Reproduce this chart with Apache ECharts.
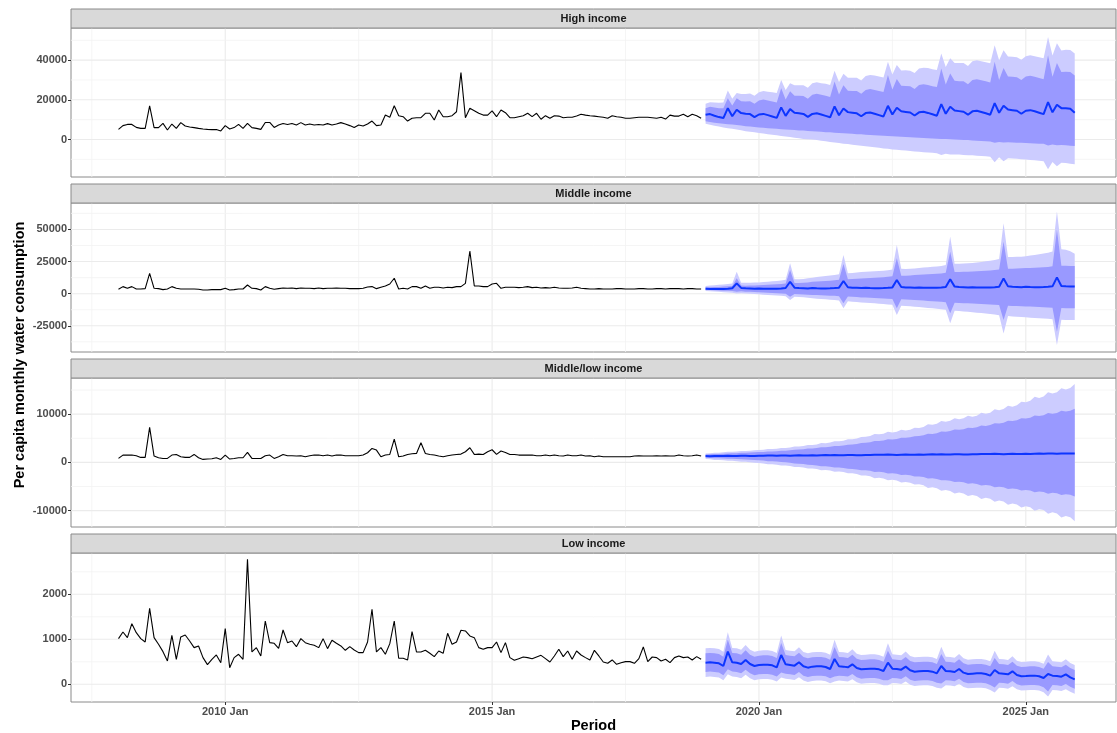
<!DOCTYPE html>
<html><head><meta charset="utf-8">
<script src="https://cdn.jsdelivr.net/npm/echarts@6/dist/echarts.min.js"></script>
<style>html,body{margin:0;padding:0;background:#fff}#chart{width:1117px;height:733px}</style>
</head><body><div id="chart"></div>
<script>
// ---------- categories / ticks ----------
const panelNames = ['High income', 'Middle income', 'Middle/low income', 'Low income'];
const histStartYear = 2008;   // monthly, 2008 Jan .. 2018 Dec
const fcStartYear = 2019;     // monthly, 2019 Jan .. 2025 Dec
const xTickYears = [2010, 2015, 2020, 2025];
const xMinorYears = [2007.5, 2012.5, 2017.5, 2022.5];
const yTicksHigh = [0, 20000, 40000];
const yTicksMiddle = [-25000, 0, 25000, 50000];
const yTicksMidLow = [-10000, 0, 10000];
const yTicksLow = [0, 1000, 2000];
const yMinorHigh = [-10000, 10000, 30000, 50000];
const yMinorMiddle = [-37500, -12500, 12500, 37500, 62500];
const yMinorMidLow = [-5000, 5000, 15000];
const yMinorLow = [500, 1500, 2500];

// ---------- historical series ----------
const histHigh = [5100,7000,7600,7600,6100,5600,5600,17000,6000,6000,8100,4800,
7800,5600,8500,6800,6300,6000,5600,5300,5100,5000,5000,4300,
7000,5300,6000,7600,5600,8100,6000,5600,5100,8600,8600,6100,
7300,8100,7600,8100,7300,8500,7300,7800,7300,7600,7300,8000,
7300,7800,8500,7800,7000,6000,7300,6800,7800,9300,7000,7300,
12300,11200,17000,12000,11500,9300,10700,11000,11000,13200,13200,9800,
14900,11500,11500,12000,14000,33800,11000,15700,14500,13200,12300,12300,
14400,11500,14900,13500,11000,11000,11500,12000,13200,11500,13200,10200,
12000,10700,12000,11800,11000,11200,11200,11800,12700,12300,12000,11800,
11500,11200,10700,12000,11500,11200,10700,10700,11000,11200,11200,11200,
11000,10700,11200,10300,12300,11800,11800,12700,11500,12700,12000,10700];
const histMiddle = [3400,5500,4180,5500,3660,3660,3920,15800,4180,3920,3140,3660,
5500,4180,3660,3660,3660,3660,3400,2880,2880,3140,3140,3140,
4180,2880,3140,3660,3660,6780,4180,3920,2880,5500,4180,3400,
3920,4440,4180,4440,3920,4440,4180,4180,3920,4440,3920,4180,
4180,4440,4180,4180,3920,3920,3920,4180,5200,5500,3920,4960,
6000,7550,12000,3660,4180,3660,5500,5500,4180,6000,4180,4960,
4960,4440,4960,4700,5500,5500,8070,33200,6000,6000,5500,5500,
7550,8070,4180,4960,4960,4960,4700,4960,5500,4700,4960,4440,
4700,4440,4960,4440,4180,4180,4440,4960,4180,3920,3660,3660,
3920,3660,3660,3660,3920,3920,3660,3660,3660,3920,3920,3660,
3660,3920,3920,3660,3920,3920,3920,3660,3920,3920,3660,3660];
const histMidLow = [820,1515,1515,1515,1380,1030,1030,7260,1310,960,820,820,
1515,1650,1170,1030,1030,1650,960,620,690,750,960,620,
1515,690,820,960,960,2070,820,820,820,1380,1515,820,
1170,1650,1380,1380,1310,1380,1170,1380,1515,1515,1380,1515,
1310,1515,1515,1380,1380,1380,1380,1515,2000,2900,2550,1170,
1515,1650,4840,1170,1310,1650,1790,1860,4080,1860,1650,1515,
1310,1170,1380,1515,1650,1720,2210,3040,1650,1720,1650,2210,
2620,1650,2350,2070,1650,1650,1515,1515,1515,1515,1380,1380,
1515,1380,1515,1380,1310,1515,1380,1380,1515,1310,1380,1170,
1310,1170,1170,1170,1170,1170,1170,1170,1310,1380,1310,1310,
1310,1380,1310,1380,1310,1310,1515,1380,1310,1380,1515,1310];
const histLow = [1015,1163,1037,1348,1148,1015,941,1689,1037,889,726,519,
1089,556,1052,1096,963,815,852,593,437,556,652,481,
1237,370,593,667,556,2778,719,815,630,1407,926,911,
800,1207,926,963,837,1015,926,889,867,815,1015,793,
978,911,852,756,837,763,704,704,941,1667,719,815,
667,904,1407,578,578,541,1170,719,719,756,689,615,
741,689,1133,889,941,1200,1185,1074,1037,815,778,815,
815,941,704,926,593,533,570,607,593,570,607,644,
570,496,630,778,615,741,556,741,652,593,541,756,
630,496,467,541,444,481,504,504,467,570,830,504,
607,593,519,556,481,593,630,593,607,541,615,556];

// ---------- forecasts: High income ----------
const fcMeanHigh = [12500,12800,12000,11300,10800,15800,11700,15000,13300,13000,12800,11300,
12600,12900,12300,11600,10900,16200,11900,15300,13500,13200,12900,11400,
12900,13200,12600,11900,11200,16700,12200,15600,13800,13500,13200,11700,
13300,13600,13000,12300,11600,17000,12600,16000,14200,13900,13600,12100,
13700,14000,13400,12700,12000,17800,13000,16500,14600,14300,14000,12500,
14200,14500,13900,13200,12500,18300,13500,17000,15100,14800,14500,13000,
14500,14800,14200,13500,12800,18800,13700,17500,15800,15800,15500,13500];
const fcHi80High = [15800,16500,16100,15800,15700,20800,17200,20800,19300,19200,19300,18000,
19600,20100,19700,19200,18700,25800,20100,24300,22100,22000,21900,20600,
22500,23000,22500,22000,21400,29200,22700,27400,24600,24500,24400,23000,
25000,25400,25000,24500,23900,32500,25200,30500,27100,27000,26800,25500,
27500,27900,27500,26900,26400,35800,27700,33300,29600,29400,29300,27900,
30000,30400,29900,29300,28700,39200,30000,36000,31800,31600,31400,30000,
31700,32100,31600,31000,30400,42500,31600,38500,34000,34200,34000,32200];
const fcHi95High = [18000,18800,18600,18500,18600,24700,20500,23500,22900,22900,23200,22000,
23800,24400,24100,23800,23400,30000,25000,28300,27300,27300,27300,26100,
28300,28900,28400,28100,27500,34700,29000,33100,31100,31100,31100,29800,
32000,32500,32200,31800,31300,39200,32800,37500,34800,34900,34700,33500,
35800,36200,36000,35400,35000,43300,36500,41000,38600,38500,38500,37100,
39500,39900,39500,39000,38400,47500,39900,45000,41800,41700,41500,40200,
42000,42500,42000,41500,41000,51700,42300,48500,44900,45200,45100,43400];
const fcLo80High = [9200,8800,8500,8200,7900,7700,7500,7300,7000,6700,6500,6300,
6100,5900,5700,5600,5400,5200,5100,4900,4800,4600,4500,4300,
4200,4000,3900,3700,3600,3400,3300,3100,3000,2900,2700,2600,
2400,2300,2100,2000,1900,1800,1700,1500,1400,1300,1100,1000,
900,800,600,500,400,300,200,100,0,-100,-200,-300,
-500,-600,-800,-900,-1000,-1600,-1200,-1500,-1400,-1500,-1600,-1700,
-1800,-1900,-2000,-2100,-2200,-3000,-2500,-2900,-2800,-2900,-3100,-3300];
const fcLo95High = [8000,7400,6900,6500,6100,5700,5400,5100,4700,4200,3900,3600,
3300,3000,2700,2400,2100,1800,1500,1200,900,600,300,100,
0,-300,-600,-900,-1200,-1500,-1800,-2100,-2300,-2600,-2900,-3100,
-3400,-3700,-3900,-4200,-4500,-4700,-5000,-5200,-5400,-5600,-5800,-6000,
-6200,-6400,-6500,-6700,-6900,-7800,-7200,-7600,-7500,-7600,-7800,-7900,
-8000,-8200,-8300,-8500,-8700,-11500,-9000,-11000,-9400,-9600,-9700,-9900,
-10100,-10300,-10500,-10700,-10900,-15000,-11300,-13500,-11700,-11900,-12200,-12500];

// ---------- forecasts: Middle income ----------
const fcMeanMiddle = [3900,3700,3600,3600,3700,3900,4200,8000,4500,4200,4100,3900,
4100,3900,3800,3800,3900,4100,4400,9300,4700,4400,4300,4100,
4400,4200,4100,4100,4200,4400,4700,9900,5000,4700,4600,4400,
4600,4400,4300,4300,4400,4600,4900,10600,5200,4900,4800,4600,
4900,4700,4600,4600,4700,4900,5200,11200,5500,5200,5100,4900,
5100,4900,4800,4800,4900,5100,5400,11900,5700,5400,5300,5100,
5400,5200,5100,5100,5200,5400,5700,12700,6000,5700,5600,5500];
const fcHi80Middle = [4960,5100,5200,5300,5500,5700,6000,12000,6300,6200,6300,6400,
6600,6800,7000,7200,7400,7600,8000,18400,8400,8300,8500,8700,
9300,9500,9700,9900,10100,10400,10800,23100,11300,11400,11600,11800,
12000,12200,12400,12600,12800,13100,13500,27500,14000,14000,14200,14500,
14700,14900,15100,15300,15500,15800,16300,32700,16800,16800,17000,17100,
17300,17500,17700,17900,18100,18400,18900,40500,19500,19500,19700,19800,
19900,20000,20200,20300,20500,20800,21300,49600,21800,21700,21600,21500];
const fcHi95Middle = [6000,6300,6600,6900,7200,7500,8000,17100,8500,8500,8600,8700,
8800,9000,9300,9600,9900,10200,10800,23600,11300,11300,11500,12000,
12500,12900,13300,13700,14100,14500,15200,30100,16000,16200,16500,16800,
17100,17300,17500,17700,17900,18200,18800,37900,19500,19300,19500,19700,
20000,20300,20600,20900,21200,21600,22400,44400,23300,23300,23500,23600,
23900,24300,24700,25200,25600,26200,27000,54800,28500,28500,28700,28800,
29200,29700,30200,30700,31200,31800,32800,63900,34500,34200,33000,31000];
const fcLo80Middle = [2900,2800,2600,2500,2300,2200,2000,1600,1800,1600,1500,1300,
1200,1000,800,600,400,200,0,-2300,-300,-500,-600,-800,
-1000,-1100,-1300,-1400,-1600,-1700,-1900,-7500,-2200,-2400,-2600,-2900,
-3000,-3200,-3400,-3500,-3700,-3900,-4100,-11400,-4400,-4600,-4700,-4900,
-5100,-5400,-5600,-5800,-6100,-6300,-6600,-15300,-7000,-7200,-7400,-7500,
-7700,-7900,-8100,-8300,-8500,-8700,-8900,-20500,-9300,-9500,-9600,-9800,
-9900,-10000,-10200,-10400,-10500,-10700,-10900,-29600,-11200,-11300,-11300,-11400];
const fcLo95Middle = [2100,1900,1700,1500,1200,1000,800,200,400,100,-100,-300,
-500,-800,-1000,-1200,-1400,-1600,-1900,-4900,-2300,-2600,-2800,-3100,
-3600,-3900,-4200,-4400,-4700,-5000,-5300,-11400,-5900,-6200,-6500,-6800,
-7000,-7300,-7500,-7800,-8100,-8400,-8700,-16600,-9300,-9500,-9800,-10100,
-10400,-10700,-11100,-11400,-11800,-12100,-12500,-23100,-13200,-13500,-13800,-14100,
-14400,-14800,-15100,-15500,-15800,-16200,-16700,-30900,-17400,-17700,-17900,-18200,
-18400,-18700,-18900,-19200,-19400,-19600,-19900,-40000,-20300,-20400,-20500,-20500];

// ---------- forecasts: Middle/low income ----------
const fcMeanMidLow = [1300,1280,1330,1350,1320,1370,1340,1310,1360,1380,1340,1330,
1380,1360,1410,1430,1400,1450,1420,1390,1440,1460,1420,1410,
1460,1440,1490,1510,1480,1530,1500,1470,1520,1540,1500,1490,
1540,1520,1570,1590,1560,1610,1580,1550,1600,1620,1580,1570,
1620,1600,1650,1670,1640,1690,1660,1630,1680,1700,1660,1650,
1700,1680,1730,1750,1720,1770,1740,1710,1760,1780,1740,1730,
1780,1760,1810,1830,1800,1850,1820,1790,1840,1860,1850,1860];
const fcHi80MidLow = [1650,1690,1755,1760,1800,1865,1880,1910,1975,1990,2040,2105,
2130,2170,2270,2260,2310,2400,2430,2510,2640,2660,2740,2870,
2900,2990,3145,3160,3250,3405,3420,3500,3665,3710,3830,4025,
4060,4180,4425,4420,4530,4775,4760,4870,5105,5100,5210,5445,
5470,5620,5945,5910,6060,6385,6360,6490,6795,6750,6880,7185,
7140,7270,7625,7570,7730,8125,8070,8240,8625,8570,8740,9145,
9090,9260,9715,9610,9790,10235,10110,10260,10685,10560,10710,11135];
const fcHi95MidLow = [1860,1910,2020,2020,2080,2180,2190,2240,2350,2350,2420,2540,
2560,2630,2800,2760,2830,3000,3000,3100,3300,3290,3390,3590,
3590,3720,4000,3980,4110,4390,4370,4500,4780,4800,4970,5290,
5300,5470,5890,5810,5950,6330,6220,6360,6750,6630,6770,7160,
7130,7350,7920,7780,8000,8570,8440,8610,9140,8960,9130,9650,
9480,9650,10270,10070,10310,11010,10800,11050,11740,11540,11840,12600,
12450,12760,13610,13360,13670,14520,14260,14550,15380,15120,15410,16250];
const fcLo80MidLow = [960,920,865,850,810,745,730,700,635,620,560,475,
440,380,260,250,190,80,30,-70,-220,-260,-360,-510,
-560,-650,-805,-820,-910,-1065,-1080,-1160,-1325,-1350,-1450,-1625,
-1650,-1750,-1975,-1950,-2050,-2285,-2260,-2370,-2595,-2570,-2680,-2905,
-2910,-3040,-3345,-3290,-3420,-3725,-3680,-3790,-4075,-4020,-4130,-4415,
-4350,-4470,-4805,-4700,-4810,-5155,-5050,-5170,-5505,-5400,-5500,-5835,
-5710,-5820,-6195,-6020,-6130,-6505,-6320,-6410,-6785,-6600,-6690,-7055];
const fcLo95MidLow = [690,630,520,500,440,330,320,250,140,130,40,-90,
-130,-220,-400,-390,-470,-660,-660,-760,-960,-950,-1050,-1250,
-1250,-1350,-1610,-1560,-1670,-1920,-1870,-1980,-2230,-2240,-2390,-2700,
-2710,-2870,-3270,-3180,-3330,-3720,-3620,-3770,-4170,-4070,-4210,-4610,
-4560,-4750,-5300,-5150,-5350,-5890,-5740,-5910,-6440,-6260,-6440,-6960,
-6780,-6960,-7580,-7330,-7520,-8170,-7920,-8120,-8760,-8510,-8710,-9360,
-9110,-9300,-10050,-9700,-9900,-10650,-10360,-10620,-11430,-11130,-11390,-12200];

// ---------- forecasts: Low income ----------
const fcMeanLow = [481,489,481,467,407,726,489,481,452,541,452,407,
430,437,437,422,378,652,444,430,415,489,400,370,
393,400,400,385,341,563,400,393,378,444,363,333,
341,348,348,333,296,481,348,341,326,393,311,281,
289,296,296,281,244,407,296,289,274,341,259,230,
237,244,244,230,193,318,244,237,222,289,207,178,
185,193,193,178,141,230,193,185,170,222,155,111];
const fcHi80Low = [688,696,688,674,614,991,696,688,659,756,659,614,
637,644,644,629,585,917,651,637,622,704,607,577,
600,607,607,592,548,828,607,600,585,659,570,540,
548,555,555,540,503,746,555,548,533,608,518,488,
496,503,503,488,451,672,503,496,481,556,466,437,
444,451,451,437,400,583,451,444,429,504,414,385,
392,400,400,385,348,495,400,392,377,437,362,318];
const fcHi95Low = [799,807,799,785,725,1156,807,799,770,876,770,725,
748,755,755,740,696,1082,762,748,733,824,718,688,
711,718,718,703,659,993,718,711,696,779,681,651,
659,666,666,651,614,911,666,659,644,728,629,599,
607,614,614,599,562,837,614,607,592,676,577,548,
555,562,562,548,511,748,562,555,540,624,525,496,
503,511,511,496,459,660,511,503,488,557,473,429];
const fcLo80Low = [274,282,274,260,200,336,282,274,245,326,245,200,
223,230,230,215,171,262,237,223,208,274,193,163,
186,193,193,178,134,173,193,186,171,229,156,126,
134,141,141,126,89,91,141,134,119,178,104,74,
82,89,89,74,37,17,89,82,67,126,52,23,
30,37,37,23,-14,-72,37,30,15,74,0,-29,
-22,-14,-14,-29,-66,-160,-14,-22,-37,7,-52,-96];
const fcLo95Low = [163,171,163,149,89,226,171,163,134,211,134,89,
112,119,119,104,60,152,126,112,97,159,82,52,
75,82,82,67,23,63,82,75,60,114,45,15,
23,30,30,15,-22,-19,30,23,8,63,-7,-37,
-29,-22,-22,-37,-74,-93,-22,-29,-44,11,-59,-88,
-81,-74,-74,-88,-125,-182,-74,-81,-96,-41,-111,-140,
-133,-125,-125,-140,-177,-270,-125,-133,-148,-108,-163,-207];

// ---------- assemble ----------
const panels = [
  {hist: histHigh, mean: fcMeanHigh, lo80: fcLo80High, hi80: fcHi80High, lo95: fcLo95High, hi95: fcHi95High, ticks: yTicksHigh, minor: yMinorHigh, range: [-18900, 56200]},
  {hist: histMiddle, mean: fcMeanMiddle, lo80: fcLo80Middle, hi80: fcHi80Middle, lo95: fcLo95Middle, hi95: fcHi95Middle, ticks: yTicksMiddle, minor: yMinorMiddle, range: [-45400, 70600]},
  {hist: histMidLow, mean: fcMeanMidLow, lo80: fcLo80MidLow, hi80: fcHi80MidLow, lo95: fcLo95MidLow, hi95: fcHi95MidLow, ticks: yTicksMidLow, minor: yMinorMidLow, range: [-13400, 17500]},
  {hist: histLow, mean: fcMeanLow, lo80: fcLo80Low, hi80: fcHi80Low, lo95: fcLo95Low, hi95: fcHi95Low, ticks: yTicksLow, minor: yMinorLow, range: [-393, 2918]}
];

const GRID_LEFT = 71, GRID_W = 1045, PANEL_H = 149, STRIP_H = 19;
const panelTops = [28, 203, 378, 553];
const X_MIN = 2007.11, X_MAX = 2026.69;
const FONT = '"Liberation Sans", Arial, Helvetica, sans-serif';
const LIGHT = '#CCCCFF', DARK = '#9999FF', MEANC = '#0d35ff';

const grids = [], xAxes = [], yAxes = [], series = [], graphics = [];

panels.forEach((p, k) => {
  const top = panelTops[k];
  grids.push({left: GRID_LEFT, top: top, width: GRID_W, height: PANEL_H, show: true,
    borderColor: '#8a8a8a', borderWidth: 1, backgroundColor: 'transparent', containLabel: false});
  const bottom = k === 3;
  xAxes.push({type: 'value', gridIndex: k, min: X_MIN, max: X_MAX, position: 'bottom',
    splitLine: {show: false}, axisLine: {show: false, onZero: false},
    axisTick: {show: bottom, customValues: xTickYears, length: 3, lineStyle: {color: '#333'}},
    axisLabel: {show: bottom, customValues: xTickYears, formatter: v => Math.round(v) + ' Jan',
      fontFamily: FONT, fontSize: 11, fontWeight: 'bold', color: '#4d4d4d', margin: 4}});
  yAxes.push({type: 'value', gridIndex: k, min: p.range[0], max: p.range[1], position: 'left',
    splitLine: {show: false}, axisLine: {show: false, onZero: false},
    axisTick: {show: true, customValues: p.ticks, length: 3, lineStyle: {color: '#333'}},
    axisLabel: {show: true, customValues: p.ticks, formatter: v => String(v),
      fontFamily: FONT, fontSize: 11, fontWeight: 'bold', color: '#4d4d4d', margin: 4}});

  // grid lines (custom series through axis scales)
  const gl = [];
  xTickYears.forEach(v => gl.push([v, 0, 1, 0]));
  xMinorYears.forEach(v => gl.push([v, 0, 0, 0]));
  p.ticks.forEach(v => gl.push([2015, v, 1, 1]));
  p.minor.forEach(v => gl.push([2015, v, 0, 1]));
  series.push({type: 'custom', xAxisIndex: k, yAxisIndex: k, silent: true, z: 1, animation: false,
    data: gl, encode: {x: 0, y: 1},
    renderItem: (params, api) => {
      const cs = params.coordSys;
      const pt = api.coord([api.value(0), api.value(1)]);
      const major = api.value(2) === 1;
      const horiz = api.value(3) === 1;
      const shape = horiz ? {x1: cs.x, y1: pt[1], x2: cs.x + cs.width, y2: pt[1]}
                          : {x1: pt[0], y1: cs.y, x2: pt[0], y2: cs.y + cs.height};
      return {type: 'line', shape: shape, style: {stroke: major ? '#ebebeb' : '#f3f3f3', lineWidth: major ? 1.1 : 0.8}};
    }});

  const fx = p.mean.map((_, j) => fcStartYear + j / 12);
  const hx = p.hist.map((_, i) => histStartYear + i / 12);
  // interval bands: one polygon each, vertices placed through the axis scales
  const band = (lo, hi, color, z) => {
    series.push({type: 'custom', xAxisIndex: k, yAxisIndex: k, silent: true, z: z, animation: false,
      data: fx.map((x, j) => [x, lo[j], hi[j]]), encode: {x: 0, y: [1, 2]},
      renderItem: (params, api) => {
        if (params.dataIndex !== 0) return null;
        const upper = fx.map((x, j) => api.coord([x, hi[j]]));
        const lower = fx.map((x, j) => api.coord([x, lo[j]])).reverse();
        return {type: 'polygon', shape: {points: upper.concat(lower)}, style: {fill: color, stroke: null}};
      }});
  };
  band(p.lo95, p.hi95, LIGHT, 2);
  band(p.lo80, p.hi80, DARK, 3);
  series.push({type: 'line', xAxisIndex: k, yAxisIndex: k, data: p.mean.map((v, j) => [fx[j], v]),
    symbol: 'none', lineStyle: {color: MEANC, width: 2}, silent: true, z: 4, animation: false});
  series.push({type: 'line', xAxisIndex: k, yAxisIndex: k, data: p.hist.map((v, i) => [hx[i], v]),
    symbol: 'none', lineStyle: {color: '#000', width: 1.1}, silent: true, z: 4, animation: false});

  // facet strip
  graphics.push({type: 'rect', shape: {x: GRID_LEFT, y: top - STRIP_H, width: GRID_W, height: STRIP_H},
    style: {fill: '#d9d9d9', stroke: '#8a8a8a', lineWidth: 1}, silent: true, z: 10});
  graphics.push({type: 'text', x: GRID_LEFT + GRID_W / 2, y: top - STRIP_H / 2,
    style: {text: panelNames[k], font: 'bold 11px ' + FONT, fill: '#1a1a1a', align: 'center', verticalAlign: 'middle'},
    silent: true, z: 11});
});

graphics.push({type: 'text', x: 20, y: 355, rotation: Math.PI / 2,
  style: {text: 'Per capita monthly water consumption', font: 'bold 14.5px ' + FONT, fill: '#000', align: 'center', verticalAlign: 'middle'}, silent: true});
graphics.push({type: 'text', x: GRID_LEFT + GRID_W / 2, y: 726,
  style: {text: 'Period', font: 'bold 14.5px ' + FONT, fill: '#000', align: 'center', verticalAlign: 'middle'}, silent: true});

const chart = echarts.init(document.getElementById('chart'), null, {renderer: 'canvas'});
chart.setOption({animation: false, backgroundColor: '#fff', grid: grids, xAxis: xAxes, yAxis: yAxes, series: series, graphic: graphics});
</script></body></html>
